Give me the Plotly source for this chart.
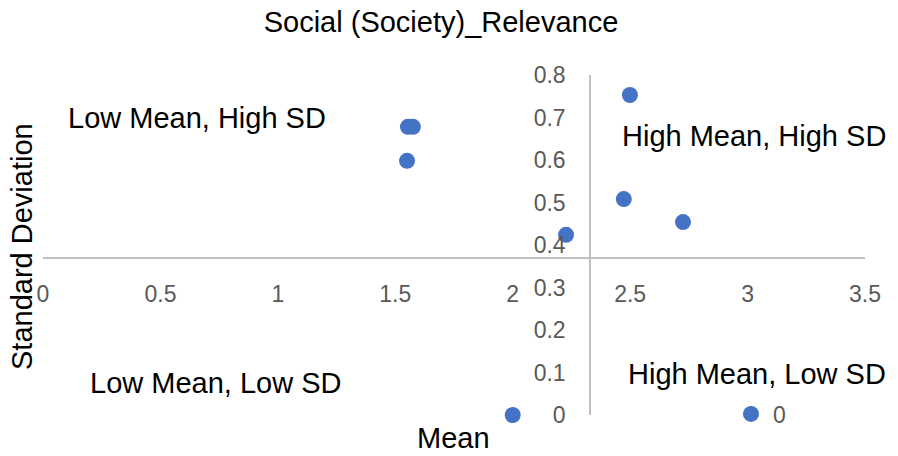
import plotly.graph_objects as go

# Data
mean_values = [1.554, 1.575, 1.550, 2.499, 2.473, 2.725, 2.227, 2.000]
sd_values = [0.678, 0.678, 0.598, 0.753, 0.508, 0.454, 0.424, 0.000]
series_name = "0"
x_ticks = [0, 0.5, 1, 1.5, 2, 2.5, 3, 3.5]
y_ticks = [0, 0.1, 0.2, 0.3, 0.4, 0.5, 0.6, 0.7, 0.8]
x_cross = 2.33   # where the vertical (SD) axis crosses the Mean axis
y_cross = 0.37   # where the horizontal (Mean) axis crosses the SD axis

W, H = 898, 456
L, R, T, B = 43, 33, 75, 41
PW, PH = W - L - R, H - T - B

def px(x):
    return (x - L) / PW

def py(y):
    return (H - B - y) / PH

TICK_FONT = dict(family="Liberation Sans, Arial, sans-serif", size=23, color="#595959")
TEXT_FONT = dict(family="Liberation Sans, Arial, sans-serif", size=29, color="#000000")
AXIS_COLOR = "#BFBFBF"

fig = go.Figure()
fig.add_trace(go.Scatter(
    x=mean_values, y=sd_values, mode="markers", name=series_name,
    marker=dict(color="#4472C4", size=16),
    cliponaxis=False, showlegend=True,
))

x_range = [x_ticks[0], x_ticks[-1]]
y_range = [y_ticks[0], y_ticks[-1]]

fig.update_layout(
    width=W, height=H,
    margin=dict(l=L, r=R, t=T, b=B),
    paper_bgcolor="white", plot_bgcolor="white",
    title=dict(text="Social (Society)_Relevance", x=px(441), xref="paper",
               y=1 - 22 / H, yref="container", xanchor="center", yanchor="middle",
               font=TEXT_FONT),
    xaxis=dict(range=x_range, tickvals=x_ticks, ticktext=[f"{v:g}" for v in x_ticks],
               showgrid=False, zeroline=False, showline=True, linecolor=AXIS_COLOR,
               linewidth=2, anchor="free",
               position=(y_cross - y_range[0]) / (y_range[1] - y_range[0]),
               ticks="", ticklabelstandoff=16, tickfont=TICK_FONT, fixedrange=True),
    yaxis=dict(range=y_range, tickvals=y_ticks, ticktext=[f"{v:g}" for v in y_ticks],
               showgrid=False, zeroline=False, showline=True, linecolor=AXIS_COLOR,
               linewidth=2, anchor="free",
               position=(x_cross - x_range[0]) / (x_range[1] - x_range[0]),
               ticks="", ticklabelstandoff=19, tickfont=TICK_FONT, fixedrange=True),
    legend=dict(x=px(729), y=py(414), xanchor="left", yanchor="middle",
                font=TICK_FONT, bgcolor="rgba(0,0,0,0)", itemwidth=34),
)

annotations = [
    ("Low Mean, High SD", 197, 118, 0),
    ("High Mean, High SD", 754, 136, 0),
    ("Low Mean, Low SD", 215, 383, 0),
    ("High Mean, Low SD", 757, 374, 0),
    ("Mean", 453, 438, 0),
    ("Standard Deviation", 22, 247, -90),
]
for text, x, y, ang in annotations:
    fig.add_annotation(text=text, x=px(x), y=py(y), xref="paper", yref="paper",
                       xanchor="center", yanchor="middle", showarrow=False,
                       textangle=ang, font=TEXT_FONT)

fig.write_html("out.html", config={"displayModeBar": False, "staticPlot": True},
               post_script="document.body.style.margin='0';document.body.style.overflow='hidden';")
